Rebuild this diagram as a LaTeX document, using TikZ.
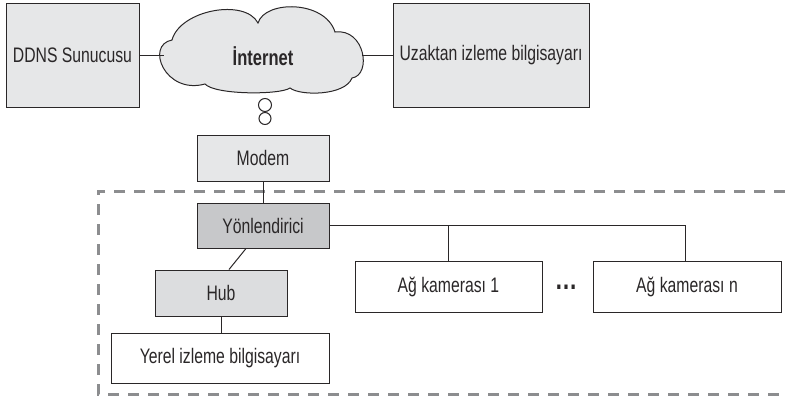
\documentclass[tikz,border=0pt]{standalone}
\usepackage{fontspec}
\setmainfont{Liberation Sans}[FakeStretch=0.75]
\definecolor{ink}{HTML}{2A2728}
\definecolor{lightfill}{HTML}{E6E7E8}
\definecolor{midfill}{HTML}{DCDDDF}
\definecolor{darkfill}{HTML}{C7C8CA}
\definecolor{dashgray}{HTML}{8C8D8F}
\begin{document}
\begin{tikzpicture}[x=1pt,y=-1pt,
  every node/.style={text=ink, font=\fontsize{21}{25}\selectfont},
  box/.style={draw=ink, line width=1pt, inner sep=0pt, anchor=center},
  link/.style={draw=ink, line width=1pt},
  bubble/.style={circle, draw=ink, line width=1pt, fill=white, inner sep=0pt}]
\useasboundingbox (0,0) rectangle (785,397);
% dashed local network boundary
\draw[dashgray, line width=3pt, dash pattern=on 11pt off 9pt] (785,191) -- (98,191) -- (98,394) -- (785,394);
% cloud
\draw[ink, line width=1pt, fill=lightfill] (172,40) .. controls (180,10) and (245,-2) .. (258,23)
  .. controls (265,0) and (325,0) .. (335,32)
  .. controls (365,28) and (372,75) .. (352,78)
  .. controls (345,96) and (300,96) .. (290,88)
  .. controls (280,95) and (215,95) .. (205,84)
  .. controls (165,95) and (145,45) .. (172,40) -- cycle;
\node[anchor=base, font=\fontsize{22}{26}\selectfont\bfseries] (inet) at (263,65) {İnternet};
\coordinate (cloudW) at (163.5,55);
\coordinate (cloudE) at (362,55);
\node[bubble, minimum size=13pt] (b1) at (265,105) {};
\node[bubble, minimum size=12pt] (b2) at (265,118.5) {};
% boxes
\node[box, fill=lightfill, minimum width=133pt, minimum height=104pt] (ddns) at (72.5,55) {DDNS Sunucusu};
\node[box, fill=lightfill, minimum width=196pt, minimum height=104pt] (uzak) at (491,55) {Uzaktan izleme bilgisayarı};
\node[box, fill=lightfill, minimum width=132pt, minimum height=46pt] (modem) at (263,158) {Modem};
\node[box, fill=darkfill, minimum width=132pt, minimum height=45pt] (yon) at (263,225.5) {Yönlendirici};
\node[box, fill=midfill, minimum width=132pt, minimum height=46pt] (hub) at (221,293) {Hub};
\node[box, fill=white, minimum width=218pt, minimum height=50pt] (yerel) at (220,358) {Yerel izleme bilgisayarı};
\node[box, fill=white, minimum width=187pt, minimum height=51pt] (cam1) at (448.5,286.5) {Ağ kamerası 1};
\node[box, fill=white, minimum width=188pt, minimum height=51pt] (camn) at (687,286.5) {Ağ kamerası n};
\node[font=\fontsize{30}{34}\selectfont\bfseries, inner sep=0pt] (dots) at (566,287.5) {…};
% connectors
\draw[link] (ddns.east) -- (cloudW);
\draw[link] (cloudE) -- (uzak.west);
\draw[link] (modem.south) -- (yon.north);
\draw[link] (yon.east) -- ([xshift=-2pt]yon.east -| camn.north) -- ([xshift=-2pt]camn.north);
\draw[link] (yon.east -| cam1.north) -- (cam1.north);
\draw[link] ([xshift=-17pt]yon.south) -- ([xshift=8pt]hub.north);
\draw[link] (hub.south) -- (hub.south |- yerel.north);
\end{tikzpicture}
\end{document}
